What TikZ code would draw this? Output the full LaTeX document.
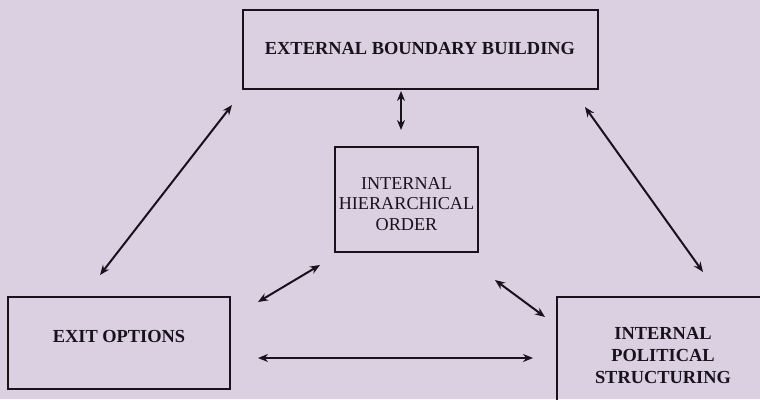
\documentclass[tikz,border=0pt]{standalone}
\usepackage{fontspec}
\setmainfont{Liberation Serif}
\usetikzlibrary{arrows.meta}
\definecolor{paper}{HTML}{DAD0E2}
\definecolor{ink}{HTML}{17131B}
\begin{document}
\begin{tikzpicture}[x=1pt,y=-1pt,
  box/.style={draw=ink, line width=2pt, rectangle, inner sep=0pt},
  boldtext/.style={text=ink, align=center, inner sep=0pt, font=\fontsize{18.4}{22}\selectfont\bfseries},
  plaintext/.style={text=ink, align=center, inner sep=0pt, font=\fontsize{18.2}{20.5}\selectfont},
  link/.style={draw=ink, line width=2pt, {Stealth[length=10pt,width=8pt]}-{Stealth[length=10pt,width=8pt]}}]
\useasboundingbox (0,0) rectangle (760,399);
\clip (0,0) rectangle (760,399);
\fill[paper] (0,0) rectangle (760,399);
% boxes
\node[box, minimum width=355pt, minimum height=79pt] (ext) at (420.5,49.5) {};
\node[boldtext] (extt) at (420,48) {EXTERNAL BOUNDARY BUILDING};
\node[box, minimum width=143pt, minimum height=105pt] (hier) at (406.5,199.5) {};
\node[plaintext] (hiert) at (406.5,204) {INTERNAL\\HIERARCHICAL\\ORDER};
\node[box, minimum width=222pt, minimum height=92pt] (exit) at (119,343) {};
\node[boldtext] (exitt) at (119,336) {EXIT OPTIONS};
\node[box, minimum width=212pt, minimum height=113pt] (pol) at (663,353.5) {};
\node[boldtext] (polt) at (663,356) {INTERNAL\\POLITICAL\\STRUCTURING};
% arrow end points
\coordinate (v1) at (401,91);
\coordinate (v2) at (401,130);
\coordinate (tl1) at (232,105);
\coordinate (tl2) at (100,275);
\coordinate (tr1) at (585,107);
\coordinate (tr2) at (703,272);
\coordinate (ml1) at (320,265);
\coordinate (ml2) at (258,302);
\coordinate (mr1) at (495,280);
\coordinate (mr2) at (545,317);
\coordinate (h1) at (258,358);
\coordinate (h2) at (533,358);
% connectors
\draw[link] (v1) -- (v2);
\draw[link] (tl1) -- (tl2);
\draw[link] (tr1) -- (tr2);
\draw[link] (ml1) -- (ml2);
\draw[link] (mr1) -- (mr2);
\draw[link] (h1) -- (h2);
\end{tikzpicture}
\end{document}
